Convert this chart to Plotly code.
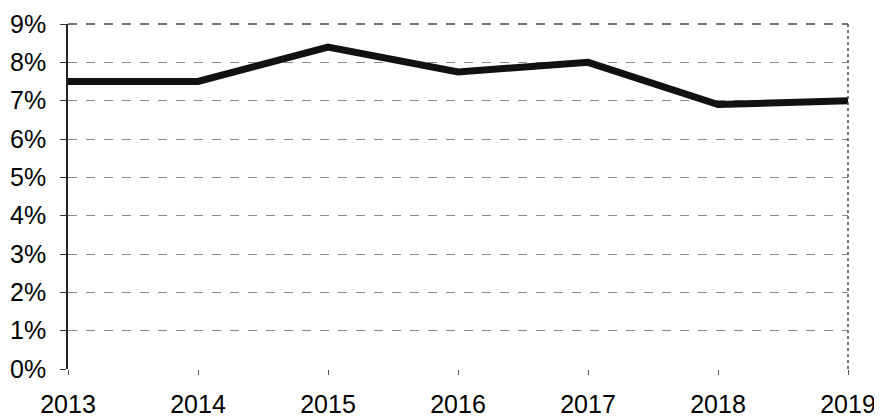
import plotly.graph_objects as go

years = [2013, 2014, 2015, 2016, 2017, 2018, 2019]
rates = [7.5, 7.5, 8.4, 7.75, 8.0, 6.9, 7.0]
y_ticks = [0, 1, 2, 3, 4, 5, 6, 7, 8, 9]
y_labels = [f"{v}%" for v in y_ticks]

fig = go.Figure()
fig.add_trace(go.Scatter(
    x=years, y=rates, mode="lines",
    line=dict(color="#111111", width=7),
    showlegend=False,
))

font = dict(family="Liberation Sans, Arial, sans-serif", size=25, color="#000000")

# the page body has an 8px default margin, so the figure is 8px smaller
# and the margins are shifted to keep the plot area in place in the window
fig.update_layout(
    width=874, height=409,
    margin=dict(l=60, r=34, t=16, b=48, autoexpand=False),
    paper_bgcolor="white", plot_bgcolor="white",
    font=font,
    xaxis=dict(
        range=[2013, 2019], tickvals=years, ticktext=[str(y) for y in years],
        showgrid=False, zeroline=False, automargin=False,
        showline=False, ticks="outside", ticklen=5, tickcolor="#555",
        ticklabelstandoff=8,
        tickfont=font,
    ),
    yaxis=dict(
        range=[0, 9], tickvals=y_ticks, ticktext=y_labels,
        showgrid=True, gridcolor="#8a8a8a", griddash="dash", gridwidth=1,
        zeroline=False, automargin=False,
        showline=True, linecolor="#222", linewidth=1.5, mirror=False,
        ticks="outside", ticklen=6, tickcolor="#333",
        ticklabelstandoff=9,
        tickfont=font,
    ),
)

# right border (dotted) and top border (dashed) of the plot area
fig.add_shape(type="line", xref="paper", yref="paper", x0=1, x1=1, y0=0, y1=1,
              line=dict(color="#444", width=1.5, dash="dot"))
fig.add_shape(type="line", xref="paper", yref="paper", x0=0, x1=1, y0=1, y1=1,
              line=dict(color="#444", width=1.5, dash="dash"))

fig.write_html("out.html")
